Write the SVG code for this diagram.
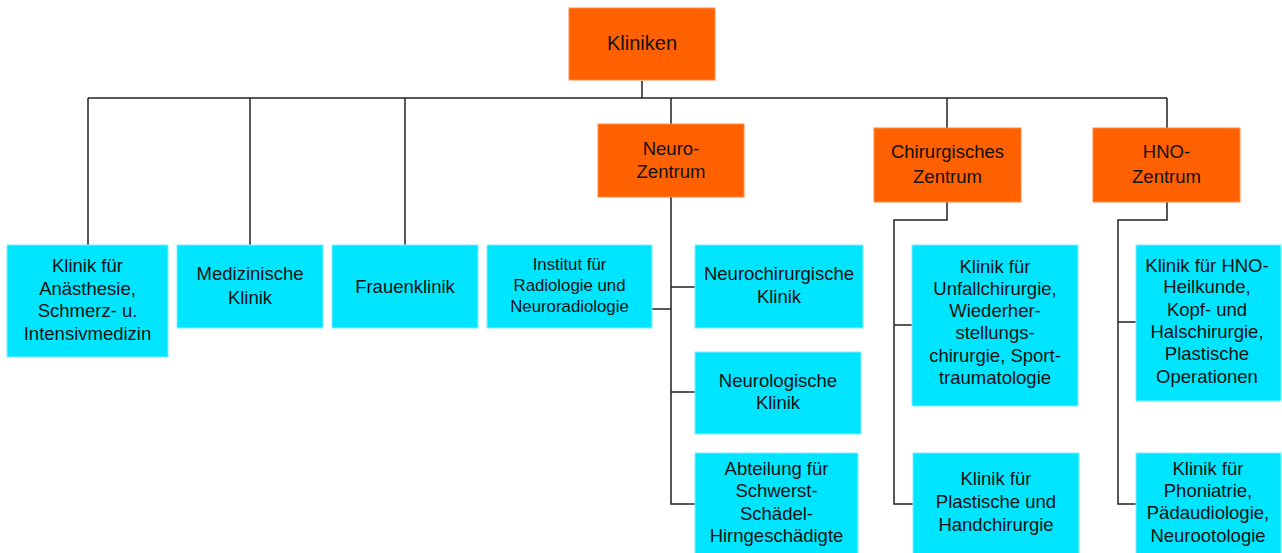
<svg xmlns="http://www.w3.org/2000/svg" width="1282" height="553" viewBox="0 0 1282 553">
<style>
.o{fill:#FF6000;stroke:#FF8A40;stroke-width:1}
.c{fill:#00E5FF;stroke:#7FF0FF;stroke-width:1}
text{font-family:"Liberation Sans",Arial,sans-serif;font-size:18.5px;fill:#111;text-anchor:middle}
.s{font-size:16.8px}
.k{font-size:20px}
#connectors path{fill:none;stroke:#222;stroke-width:1.5}
</style>
<rect width="1282" height="553" fill="#fff"/>
<g id="connectors">
<path d="M642 81V98M88 98H1167M88 98V245M250 98V245M405 98V245M671 98V124M947 98V128M1167 98V128"/>
<path d="M671 197V504H695M652 309H671M671 287H695M671 392H695"/>
<path d="M947 202V220H894V504H913M894 325H912"/>
<path d="M1167 202V220H1118V504H1136M1118 322H1136"/>
</g>
<g id="kliniken"><rect class="o" x="569" y="8" width="146" height="72"/><text class="k" x="642" y="50">Kliniken</text></g>
<g id="anaesthesie"><rect class="c" x="7" y="245" width="161" height="112"/><text x="87.5" y="272">Klinik für</text><text x="87.5" y="295">Anästhesie,</text><text x="87.5" y="317">Schmerz- u.</text><text x="87.5" y="340">Intensivmedizin</text></g>
<g id="medizinische"><rect class="c" x="177" y="245" width="146" height="83"/><text x="250" y="280">Medizinische</text><text x="250" y="304">Klinik</text></g>
<g id="frauenklinik"><rect class="c" x="332" y="245" width="146" height="83"/><text x="405" y="293">Frauenklinik</text></g>
<g id="neurozentrum"><rect class="o" x="598" y="124" width="146" height="73"/><text x="671" y="155">Neuro-</text><text x="671" y="178">Zentrum</text></g>
<g id="institut"><rect class="c" x="487" y="245" width="165" height="83"/><text class="s" x="569.5" y="270">Institut für</text><text class="s" x="569.5" y="291">Radiologie und</text><text class="s" x="569.5" y="312">Neuroradiologie</text></g>
<g id="neurochirurgische"><rect class="c" x="695" y="245" width="168" height="83"/><text x="779" y="280">Neurochirurgische</text><text x="779" y="303">Klinik</text></g>
<g id="neurologische"><rect class="c" x="695" y="352" width="166" height="82"/><text x="778" y="387">Neurologische</text><text x="778" y="409">Klinik</text></g>
<g id="abteilung"><rect class="c" x="695" y="453" width="163" height="101"/><text x="776.5" y="475">Abteilung für</text><text x="776.5" y="497">Schwerst-</text><text x="776.5" y="520">Schädel-</text><text x="776.5" y="542">Hirngeschädigte</text></g>
<g id="chirurgisches"><rect class="o" x="874" y="128" width="147" height="74"/><text x="947.5" y="158">Chirurgisches</text><text x="947.5" y="183">Zentrum</text></g>
<g id="unfall"><rect class="c" x="912" y="245" width="166" height="161"/><text x="995" y="273">Klinik für</text><text x="995" y="295">Unfallchirurgie,</text><text x="995" y="317">Wiederher-</text><text x="995" y="339">stellungs-</text><text x="995" y="362">chirurgie, Sport-</text><text x="995" y="384">traumatologie</text></g>
<g id="plastische"><rect class="c" x="913" y="453" width="166" height="101"/><text x="996" y="485">Klinik für</text><text x="996" y="508">Plastische und</text><text x="996" y="531">Handchirurgie</text></g>
<g id="hnozentrum"><rect class="o" x="1093" y="128" width="147" height="74"/><text x="1166.5" y="158">HNO-</text><text x="1166.5" y="183">Zentrum</text></g>
<g id="hno"><rect class="c" x="1136" y="245" width="145" height="156"/><text x="1207" y="272">Klinik für HNO-</text><text x="1207" y="293">Heilkunde,</text><text x="1207" y="316">Kopf- und</text><text x="1207" y="338">Halschirurgie,</text><text x="1207" y="360">Plastische</text><text x="1207" y="383">Operationen</text></g>
<g id="phoniatrie"><rect class="c" x="1136" y="453" width="145" height="101"/><text x="1208" y="475">Klinik für</text><text x="1208" y="497">Phoniatrie,</text><text x="1208" y="519">Pädaudiologie,</text><text x="1208" y="542">Neurootologie</text></g>
</svg>
